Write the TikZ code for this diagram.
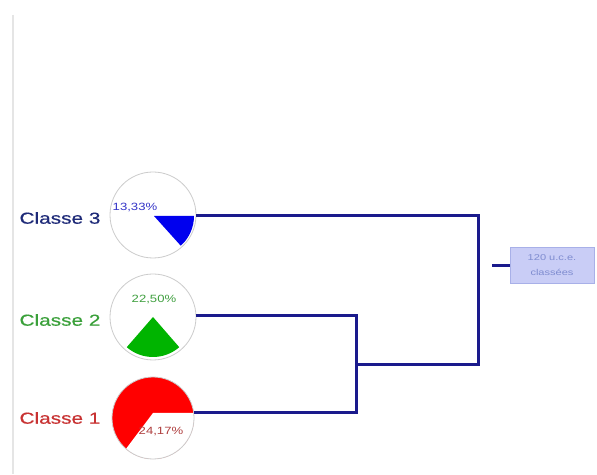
\documentclass[tikz,border=0pt]{standalone}
\usepackage{fontspec}
\setmainfont{Liberation Sans}
\newfontfamily\lblfont[FakeStretch=1.3,FakeBold=0.5]{Liberation Sans}
\newfontfamily\pctfont[FakeStretch=1.25]{Liberation Sans}
\newfontfamily\boxfont[FakeStretch=1.3]{Liberation Sans}
\definecolor{linecol}{HTML}{1A1A8C}
\definecolor{wblue}{HTML}{0000EE}
\definecolor{wgreen}{HTML}{00B400}
\definecolor{wred}{HTML}{FF0000}
\definecolor{lblthree}{HTML}{1E2A78}
\definecolor{lbltwo}{HTML}{3AA03A}
\definecolor{lblone}{HTML}{C83232}
\definecolor{pctthree}{HTML}{3535C8}
\definecolor{pcttwo}{HTML}{40A040}
\definecolor{pctone}{HTML}{B04040}
\definecolor{boxfill}{HTML}{C9CDF6}
\definecolor{boxdraw}{HTML}{A8B0E8}
\definecolor{boxtext}{HTML}{7F8CD0}
\definecolor{ringcol}{HTML}{CCCCCC}
\begin{document}
\begin{tikzpicture}[x=1pt,y=1pt,
  ring/.style={circle,draw=ringcol,line width=0.8pt,minimum size=#1,inner sep=0pt},
  link/.style={draw=linecol,line width=3pt},
  classlbl/.style={font=\lblfont\fontsize{16}{18}\selectfont,anchor=center,inner sep=0pt},
  pct/.style={font=\pctfont\fontsize{10.5}{12}\selectfont,inner sep=0pt},
  infobox/.style={draw=boxdraw,fill=boxfill,line width=0.8pt,minimum width=84pt,minimum height=36pt,inner sep=1pt,align=center,text=boxtext,font=\boxfont\fontsize{8.5}{15}\selectfont}]
\useasboundingbox (0,0) rectangle (597,474);
\fill[white] (0,0) rectangle (597,474);
% faint left rule
\draw[draw=black!10,line width=1.2pt] (13,459) -- (13,0);

% pie fills
\coordinate (w3) at (154,258);
\coordinate (w2) at (153,157);
\coordinate (w1) at (153,61);
\fill[wblue] (w3) -- ++(0:40) arc[start angle=0,end angle=-48,radius=40] -- cycle;
\fill[wgreen] (w2) -- ++(-131:40) arc[start angle=-131,end angle=-49,radius=40] -- cycle;
\fill[wred] (153,56) circle[radius=41];
\begin{scope}
  \clip (153,56) circle[radius=41];
  \fill[white] (w1) -- ++(-127:70) arc[start angle=-127,end angle=0,radius=70] -- cycle;
\end{scope}

% rings
\node[ring=86pt] (c3) at (153,259) {};
\node[ring=86pt] (c2) at (153,157) {};
\node[ring=82pt] (c1) at (153,56) {};

% percentages
\node[pct,text=pctthree] (p3) at (135,266) {13,33\%};
\node[pct,text=pcttwo] (p2) at (154,174) {22,50\%};
\node[pct,text=pctone] (p1) at (161,42) {24,17\%};

% class labels
\node[classlbl,text=lblthree] (l3) at (60,256) {Classe 3};
\node[classlbl,text=lbltwo] (l2) at (60,154) {Classe 2};
\node[classlbl,text=lblone] (l1) at (60,56) {Classe 1};

% info box
\node[infobox] (box) at (552,209) {120 u.c.e.\\classées};

% dendrogram
\coordinate (c3r) at (196,258);
\coordinate (c2r) at (196,158);
\coordinate (c1r) at (194,61);
\coordinate (ja) at (356,158);
\coordinate (jb) at (356,61);
\coordinate (jm) at (356,109);
\coordinate (kt) at (478,258);
\coordinate (kb) at (478,109);
\coordinate (st) at (492,208);
\draw[link] (c3r) -- (kt) -- (kb) -- (jm);
\draw[link] (c2r) -- (ja) -- (jb) -- (c1r);
\draw[link] (st) -- (st -| box.west);
\end{tikzpicture}
\end{document}
